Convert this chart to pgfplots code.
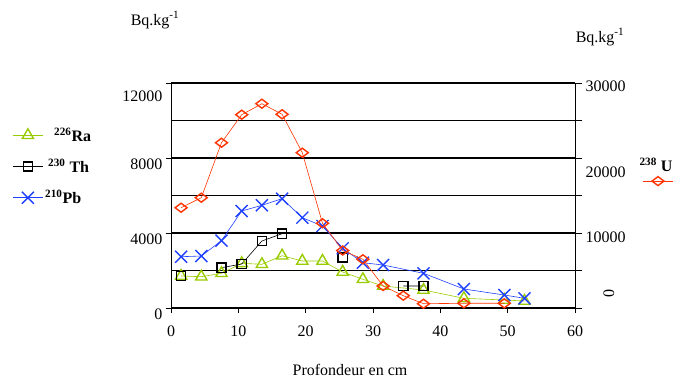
\documentclass[border=0pt]{standalone}
\usepackage{fontspec}
\setmainfont{Liberation Serif}
\usepackage{pgfplots}
\usepackage{graphicx}
\pgfplotsset{compat=1.18}
\definecolor{raC}{HTML}{99CC00}
\definecolor{pbC}{HTML}{2040FF}
\definecolor{uC}{HTML}{FF3300}
\newcommand{\fs}{\fontsize{16}{18}\selectfont}
\begin{document}
\begin{tikzpicture}[x=1pt,y=1pt]
\path[use as bounding box] (0,0) rectangle (685,378);
\begin{axis}[
  at={(171pt,70pt)}, anchor=south west,
  scale only axis, width=404pt, height=225pt,
  xmin=0, xmax=60, ymin=0, ymax=12000,
  axis x line*=bottom, axis y line*=left,
  xtick={0,10,...,60},
  ytick={0,4000,8000,12000}, minor ytick={2000,6000,10000},
  yticklabels={0,4000,8000,\raisebox{-7pt}[\height][\depth]{12000}},
  ymajorgrids, yminorgrids,
  grid style={black, line width=1.3pt},
  minor grid style={black, line width=1.3pt},
  tick align=outside, major tick length=5pt, minor tick length=0pt,
  axis line style={black, line width=0.8pt, -},
  tick style={black, line width=0.8pt},
  xticklabel style={font=\fs, yshift=-9pt},
  yticklabel style={font=\fs, yshift=-6pt},
  /pgf/number format/assume math mode=true,
  /pgf/number format/1000 sep={},
  scaled y ticks=false,
  unbounded coords=jump,
  legend style={at={(-0.40,0.82)}, anchor=north west, draw=none, fill=none,
    font=\fs\bfseries, row sep=12pt, legend cell align=left},
  legend image code/.code={\draw[mark repeat=2,mark phase=2,#1] plot coordinates {(0pt,0pt) (15pt,0pt) (30pt,0pt)};},
]
\addplot[raC, line width=0.6pt, mark=triangle, mark size=6.5pt, mark options={line width=1.4pt, solid}] coordinates {
(1.5,1707) (4.5,1669) (7.5,1851) (10.5,2384) (13.5,2331) (16.5,2789) (19.5,2507) (22.5,2507)
(25.5,1920) (28.5,1531) (31.5,1173) (37.5,960) (43.5,517) (49.5,427) (52.5,373)};
\addlegendentry{\hspace*{9pt}\textsuperscript{226}Ra}
\addplot[black, line width=0.6pt, mark=square, mark size=4.6pt, mark options={line width=1.4pt, solid}] coordinates {
(1.5,1707) (4.5,nan) (7.5,2149) (10.5,2347) (13.5,3573) (16.5,3963) (19.5,nan) (25.5,2693) (28.5,nan)
(34.5,1173) (37.5,1173)};
\addlegendentry{\hspace*{3pt}\textsuperscript{230} Th}
\addplot[pbC, line width=0.6pt, mark=x, mark size=8.5pt, mark options={line width=1.4pt, solid}] coordinates {
(1.5,2736) (4.5,2773) (7.5,3589) (10.5,5173) (13.5,5477) (16.5,5829) (19.5,4816) (22.5,4373)
(25.5,3184) (28.5,2416) (31.5,2293) (37.5,1851) (43.5,1013) (49.5,693) (52.5,517)};
\addlegendentry{\textsuperscript{210}Pb}
\end{axis}
\begin{axis}[
  at={(171pt,70pt)}, anchor=south west,
  scale only axis, width=404pt, height=225pt,
  xmin=0, xmax=60, ymin=0, ymax=30000,
  axis x line=none, axis y line*=right,
  ytick={0,5000,...,30000},
  yticklabels={\raisebox{15pt}[\height][\depth]{\hspace*{18pt}\rotatebox{90}{0}},{},\raisebox{-4pt}[\height][\depth]{10000},{},\raisebox{-14pt}[\height][\depth]{20000},{},\raisebox{-3pt}[\height][\depth]{30000}},
  tick align=outside, major tick length=7pt,
  axis line style={black, line width=0.8pt, -},
  tick style={black, line width=0.8pt},
  yticklabel style={font=\fs},
  /pgf/number format/assume math mode=true,
  scaled y ticks=false,
  legend style={at={(1.167,0.564)}, anchor=west, draw=none, fill=none, inner sep=0pt},
  legend image code/.code={\draw[mark repeat=2,mark phase=2,#1] plot coordinates {(0pt,0pt) (15pt,0pt) (30pt,0pt)};},
]
\addplot[uC, line width=0.6pt, mark=diamond, mark size=6pt, mark options={line width=1.4pt, solid, rotate=90}] coordinates {
(1.5,13373) (4.5,14707) (7.5,22040) (10.5,25773) (13.5,27240) (16.5,25827) (19.5,20707) (22.5,11293)
(25.5,7667) (28.5,6493) (31.5,2933) (34.5,1640) (37.5,573) (43.5,627) (49.5,627)};
\addlegendentry{}
\end{axis}
\node[font=\fs] at (155,358) {Bq.kg\textsuperscript{-1}};
\node[font=\fs] at (600,341) {Bq.kg\textsuperscript{-1}};
\node[font=\fs\bfseries] at (656,213) {\textsuperscript{238} U};
\node[font=\fs] at (350,8) {Profondeur en cm};
\end{tikzpicture}
\end{document}
